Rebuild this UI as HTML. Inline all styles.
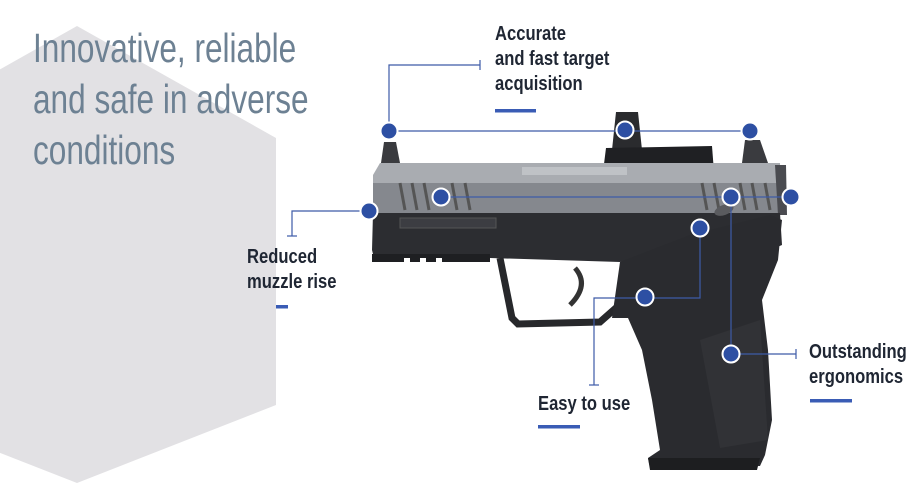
<!DOCTYPE html>
<html><head><meta charset="utf-8"><style>
html,body{margin:0;padding:0;background:#fff;}
body{width:924px;height:503px;position:relative;overflow:hidden;font-family:"Liberation Sans",sans-serif;}
.t{position:absolute;color:#6d8193;font-size:41px;line-height:48px;transform-origin:0 0;transform:scaleX(0.77);white-space:nowrap;font-weight:300;}
.l{position:absolute;color:#1f2633;font-weight:bold;font-size:20px;line-height:25px;transform-origin:0 0;transform:scaleX(0.83);white-space:nowrap;}
</style></head><body>
<svg width="924" height="503" style="position:absolute;left:0;top:0">
<polygon points="77,26 276,138 276,405 77,483 -122,405 -122,138" fill="#e2e1e4"/>
<g>
<path d="M381,163 L384,142 L396,142 L400,163Z" fill="#3a3b3f"/>
<path d="M742,163 L745,140 L760,140 L768,163Z" fill="#3a3b3f"/>
<path d="M612,150 L616,112 L638,112 L642,150Z" fill="#2a2b2e"/>
<path d="M603,172 L606,148 L712,146 L714,172Z" fill="#1f2023"/>
<path d="M373,175 L380,163 L780,163 L781,215 L373,215Z" fill="#a9acb1"/>
<path d="M373,183 L780,183 L781,215 L373,215Z" fill="#85888e"/>
<path d="M775,165 L786,165 L787,215 L778,215Z" fill="#4a4b50"/>
<g stroke="#555" stroke-width="3">
<line x1="400" y1="183" x2="405" y2="210"/><line x1="412" y1="183" x2="417" y2="210"/><line x1="424" y1="183" x2="429" y2="210"/><line x1="452" y1="183" x2="457" y2="210"/><line x1="465" y1="183" x2="470" y2="210"/>
<line x1="702" y1="183" x2="707" y2="210"/><line x1="714" y1="183" x2="719" y2="210"/><line x1="740" y1="183" x2="745" y2="210"/><line x1="752" y1="183" x2="757" y2="210"/><line x1="765" y1="183" x2="770" y2="210"/>
</g>
<rect x="522" y="167" width="105" height="8" fill="#bfc2c6"/>
<path d="M373,213 L780,213 L782,245 L770,250 L640,258 L620,262 L490,258 L490,262 L375,262 L372,250Z" fill="#2c2d31"/>
<rect x="400" y="218" width="96" height="10" fill="#3c3d42" stroke="#555" stroke-width="1"/>
<rect x="372" y="254" width="118" height="8" fill="#1e1f22"/>
<g fill="#fff"><rect x="404" y="258" width="6" height="6"/><rect x="420" y="258" width="6" height="6"/><rect x="436" y="258" width="6" height="6"/></g>
<path d="M500,258 L512,318 L518,324 L600,322 L625,300" fill="none" stroke="#27282b" stroke-width="7"/>
<path d="M575,268 Q590,285 570,305" fill="none" stroke="#333" stroke-width="5"/>
<path d="M620,262 L690,235 L770,215 L782,220 L778,260 L762,300 L768,350 L772,420 L765,455 L760,466 L650,468 L648,458 L660,450 L652,400 L642,350 L628,318 L612,318 Z" fill="#2a2b2f"/>
<path d="M700,340 L760,320 L768,440 L720,448Z" fill="#313236"/>
<path d="M648,458 L760,458 L757,470 L650,470Z" fill="#1d1e20"/>
<ellipse cx="724" cy="210" rx="10" ry="5" fill="#5a5b5f" transform="rotate(-20 724 210)"/>
</g>
<g stroke="#3d5ba8" stroke-width="1.2" fill="none">
<polyline points="389,131 389,65 480,65"/><line x1="480" y1="60" x2="480" y2="70"/>
<line x1="389" y1="131" x2="750" y2="131"/>
<line x1="441" y1="197" x2="791" y2="197"/>
<polyline points="369,211 292,211 292,236"/><line x1="287" y1="236" x2="297" y2="236"/>
<polyline points="731,197 731,354 796,354"/><line x1="796" y1="349" x2="796" y2="359"/>
<polyline points="700,228 700,298 594,298 594,385"/><line x1="589" y1="385" x2="599" y2="385"/>
</g>
<g fill="#2d4fa3" stroke="#fff" stroke-width="2">
<circle cx="389" cy="131" r="8.5"/><circle cx="625" cy="130" r="8.5"/><circle cx="750" cy="131" r="8.5"/>
<circle cx="369" cy="211" r="8.5"/><circle cx="441" cy="197" r="8.5"/><circle cx="731" cy="197" r="8.5"/><circle cx="791" cy="197" r="8.5"/>
<circle cx="700" cy="228" r="8.5"/><circle cx="645" cy="297" r="8.5"/><circle cx="731" cy="354" r="8.5"/>
</g>
<g fill="#3a5cb5">
<rect x="495" y="109" width="41" height="3.5"/>
<rect x="276" y="305" width="12" height="3.5"/>
<rect x="538" y="425" width="42" height="3.5"/>
<rect x="810" y="399" width="42" height="3.5"/>
</g>
</svg>
<div class="t" style="left:33px;top:24px">Innovative, reliable</div>
<div class="t" style="left:33px;top:75px">and safe in adverse</div>
<div class="t" style="left:33px;top:126px">conditions</div>
<div class="l" style="left:495px;top:22px">Accurate<br>and fast target<br>acquisition</div>
<div class="l" style="left:247px;top:245px">Reduced<br>muzzle rise</div>
<div class="l" style="left:538px;top:392px">Easy to use</div>
<div class="l" style="left:809px;top:340px">Outstanding<br>ergonomics</div>
</body></html>
